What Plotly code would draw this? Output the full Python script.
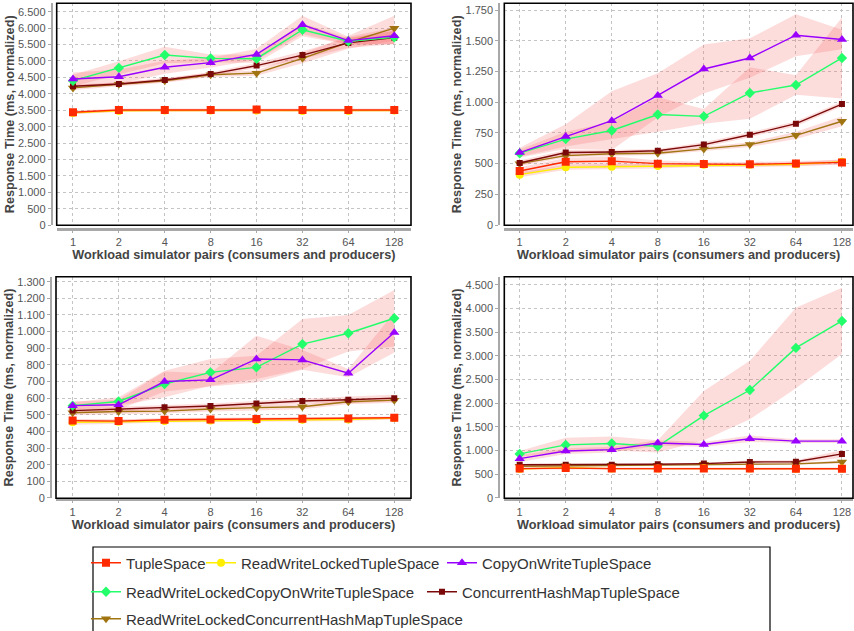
import plotly.graph_objects as go

CATEGORIES = ["1", "2", "4", "8", "16", "32", "64", "128"]
SERIES = [
    "TupleSpace",
    "ReadWriteLockedTupleSpace",
    "CopyOnWriteTupleSpace",
    "ReadWriteLockedCopyOnWriteTupleSpace",
    "ConcurrentHashMapTupleSpace",
    "ReadWriteLockedConcurrentHashMapTupleSpace",
]
COLORS = ["#FF2A00", "#FFEE00", "#9900FF", "#22FF6A", "#7A0A0A", "#A07410"]
SYMBOLS = ["square", "circle", "triangle-up", "diamond", "square", "triangle-down"]
SIZES = [8, 8, 9, 8, 6, 9]

X_TITLE = "Workload simulator pairs (consumers and producers)"
Y_TITLE = "Response Time (ms, normalized)"

# ---- top-left panel ----
TL_TS = [3440, 3510, 3510, 3510, 3520, 3510, 3510, 3510]
TL_RWTS = [3420, 3480, 3490, 3490, 3490, 3480, 3480, 3490]
TL_COW = [4450, 4520, 4810, 4950, 5200, 6100, 5620, 5770]
TL_RWCOW = [4400, 4790, 5180, 5080, 5070, 5950, 5600, 5720]
TL_CHM = [4230, 4300, 4420, 4600, 4860, 5180, 5550, 5710]
TL_RWCHM = [4180, 4290, 4400, 4580, 4630, 5080, 5570, 6000]
TL_ERR = [
    [50, 40, 40, 40, 40, 40, 40, 40],
    [40, 30, 30, 30, 30, 30, 30, 30],
    [200, 220, 200, 150, 170, 280, 120, 250],
    [180, 200, 250, 120, 130, 200, 100, 200],
    [50, 50, 60, 60, 80, 120, 150, 200],
    [60, 50, 60, 70, 80, 150, 200, 380],
]

# ---- top-right panel ----
TR_TS = [440, 515, 520, 500, 496, 494, 502, 510]
TR_RWTS = [410, 470, 475, 480, 490, 490, 494, 515]
TR_COW = [590, 720, 850, 1055, 1270, 1360, 1545, 1510]
TR_RWCOW = [585, 700, 770, 900, 885, 1075, 1140, 1360]
TR_CHM = [505, 590, 595, 605, 655, 735, 825, 985]
TR_RWCHM = [500, 565, 580, 585, 620, 655, 730, 845]
TR_ERR = [
    [30, 30, 40, 25, 20, 20, 20, 20],
    [20, 20, 20, 20, 15, 15, 15, 20],
    [40, 100, 240, 180, 200, 160, 170, 80],
    [30, 60, 70, 140, 60, 210, 80, 330],
    [20, 20, 15, 15, 20, 20, 20, 20],
    [20, 15, 15, 15, 15, 20, 30, 40],
]

# ---- bottom-left panel ----
BL_TS = [465, 462, 470, 472, 474, 476, 478, 482]
BL_RWTS = [455, 458, 463, 465, 467, 470, 472, 480]
BL_COW = [555, 560, 700, 710, 835, 830, 750, 995]
BL_RWCOW = [555, 580, 685, 755, 785, 925, 990, 1080]
BL_CHM = [525, 535, 545, 553, 568, 583, 590, 600]
BL_RWCHM = [512, 520, 522, 535, 543, 548, 578, 588]
BL_ERR = [
    [10, 10, 10, 10, 10, 10, 10, 8],
    [15, 12, 10, 10, 10, 10, 10, 8],
    [25, 30, 60, 40, 140, 60, 25, 120],
    [20, 25, 80, 80, 70, 150, 110, 170],
    [15, 15, 15, 15, 15, 15, 20, 20],
    [15, 15, 15, 15, 15, 15, 15, 15],
]

# ---- bottom-right panel ----
BR_TS = [620, 630, 620, 620, 620, 620, 615, 615]
BR_RWTS = [610, 640, 620, 620, 630, 620, 615, 620]
BR_COW = [830, 990, 1020, 1160, 1130, 1250, 1200, 1200]
BR_RWCOW = [930, 1120, 1150, 1090, 1740, 2280, 3170, 3740]
BR_CHM = [700, 700, 700, 710, 725, 760, 765, 930]
BR_RWCHM = [670, 680, 690, 690, 710, 710, 720, 760]
BR_ERR = [
    [20, 20, 20, 20, 20, 20, 20, 20],
    [20, 20, 20, 20, 20, 20, 20, 20],
    [70, 60, 60, 60, 50, 70, 40, 40],
    [60, 150, 150, 130, 520, 620, 850, 700],
    [20, 20, 20, 20, 20, 30, 30, 80],
    [20, 20, 20, 20, 20, 20, 20, 30],
]

W, H = 854, 631

PANELS = [
    dict(means=[TL_TS, TL_RWTS, TL_COW, TL_RWCOW, TL_CHM, TL_RWCHM], err=TL_ERR,
         xd=[56.7 / W, 411 / W], yd=[(H - 225.3) / H, (H - 3.3) / H],
         xr=[-0.355, 7.364], yr=[-2, 6756], dtick=500, xoff=3.5),
    dict(means=[TR_TS, TR_RWTS, TR_COW, TR_RWCOW, TR_CHM, TR_RWCHM], err=TR_ERR,
         xd=[504.3 / W, 853 / W], yd=[(H - 225.3) / H, (H - 3.3) / H],
         xr=[-0.334, 7.24], yr=[-2, 1805], dtick=250, xoff=3.5),
    dict(means=[BL_TS, BL_RWTS, BL_COW, BL_RWCOW, BL_CHM, BL_RWCHM], err=BL_ERR,
         xd=[56 / W, 411 / W], yd=[(H - 498.3) / H, (H - 276.7) / H],
         xr=[-0.362, 7.364], yr=[-2, 1330], dtick=100, xoff=1.0),
    dict(means=[BR_TS, BR_RWTS, BR_COW, BR_RWCOW, BR_CHM, BR_RWCHM], err=BR_ERR,
         xd=[504.3 / W, 853 / W], yd=[(H - 498.3) / H, (H - 276.7) / H],
         xr=[-0.334, 7.24], yr=[-8, 4675], dtick=500, xoff=1.0),
]

# legend entries: (legend id, left x px, centre y px)
LEGEND_POS = [
    ("legend", 86, 563), ("legend2", 201, 563), ("legend3", 442, 563),
    ("legend4", 86, 592), ("legend5", 422, 592),
    ("legend6", 86, 619),
]

FONT = "Liberation Sans, Arial, sans-serif"
fig = go.Figure()

for p_i, P in enumerate(PANELS):
    xa = "x" if p_i == 0 else f"x{p_i + 1}"
    ya = "y" if p_i == 0 else f"y{p_i + 1}"
    # confidence bands
    for s_i in range(len(SERIES)):
        m = P["means"][s_i]
        e = P["err"][s_i]
        upper = [a + b for a, b in zip(m, e)]
        lower = [a - b for a, b in zip(m, e)]
        fig.add_trace(go.Scatter(
            x=CATEGORIES + CATEGORIES[::-1], y=upper + lower[::-1],
            fill="toself", fillcolor="rgba(248,110,110,0.24)",
            line=dict(width=0), mode="lines", hoverinfo="skip",
            showlegend=False, xaxis=xa, yaxis=ya))
    # lines (first series drawn on top)
    for s_i in reversed(range(len(SERIES))):
        fig.add_trace(go.Scatter(
            x=CATEGORIES, y=P["means"][s_i], name=SERIES[s_i],
            mode="lines+markers",
            line=dict(color=COLORS[s_i], width=1.4),
            marker=dict(symbol=SYMBOLS[s_i], size=SIZES[s_i], color=COLORS[s_i]),
            showlegend=(p_i == 0), legend=LEGEND_POS[s_i][0],
            xaxis=xa, yaxis=ya))

    xkey = "xaxis" if p_i == 0 else f"xaxis{p_i + 1}"
    ykey = "yaxis" if p_i == 0 else f"yaxis{p_i + 1}"
    fig.layout[xkey] = dict(
        domain=P["xd"], type="category", categoryorder="array", categoryarray=CATEGORIES,
        range=P["xr"], anchor="free", position=P["yd"][0] - P["xoff"] / H,
        showgrid=True, gridcolor="#c4c4c4", griddash="dot", gridwidth=1,
        showline=True, linecolor="#a8a8a8", linewidth=2.5,
        ticks="outside", ticklen=2, tickcolor="#a8a8a8",
        tickfont=dict(family=FONT, size=11, color="#555"),
        title=dict(text=X_TITLE, standoff=2,
                   font=dict(family=FONT, size=12.7, color="#444", weight="bold")),
        fixedrange=True,
    )
    fig.layout[ykey] = dict(
        domain=P["yd"], range=P["yr"], dtick=P["dtick"], tick0=0, tickformat=",d",
        anchor="free", position=P["xd"][0] - 5 / W,
        showgrid=True, gridcolor="#c4c4c4", griddash="dot", gridwidth=1,
        zeroline=False,
        showline=True, linecolor="#a8a8a8", linewidth=2,
        ticks="outside", ticklen=3, tickcolor="#a8a8a8",
        tickfont=dict(family=FONT, size=11, color="#555"),
        title=dict(text=Y_TITLE, standoff=0,
                   font=dict(family=FONT, size=12.7, color="#444", weight="bold")),
        fixedrange=True,
    )
    # black plot frame
    fig.add_shape(type="rect", xref=f"{xa} domain", yref=f"{ya} domain",
                  x0=0, x1=1, y0=0, y1=1, line=dict(color="black", width=1.6),
                  layer="above")

# legend frame
fig.add_shape(type="rect", xref="paper", yref="paper",
              x0=93 / W, x1=770 / W, y0=-0.05, y1=(H - 547) / H,
              line=dict(color="black", width=1.2), fillcolor="rgba(0,0,0,0)")

legend_layout = {}
for lid, lx, ly in LEGEND_POS:
    legend_layout[lid] = dict(
        orientation="h", x=lx / W, xanchor="left", y=(H - ly) / H, yanchor="middle",
        borderwidth=0, bgcolor="rgba(0,0,0,0)", itemwidth=30,
        font=dict(family=FONT, size=15, color="#333"),
    )

fig.update_layout(
    width=W, height=H,
    margin=dict(l=0, r=0, t=0, b=0, autoexpand=False),
    paper_bgcolor="white", plot_bgcolor="white",
    separators=",.",
    font=dict(family=FONT),
    **legend_layout,
)

fig.write_html("out.html", config={"displayModeBar": False},
               post_script="document.body.style.margin='0px';")
